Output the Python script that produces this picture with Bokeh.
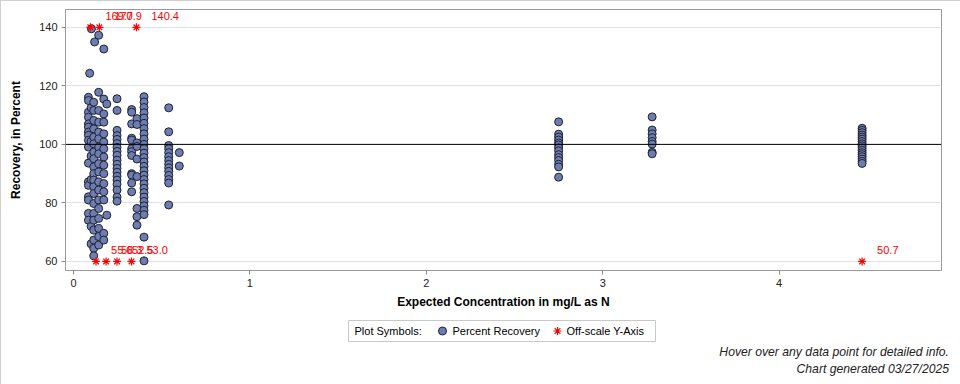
from bokeh.plotting import figure
from bokeh.models import Range1d, Span, FixedTicker, ColumnDataSource, Label, Div
from bokeh.layouts import column
from bokeh.core.properties import value
from bokeh.embed import file_html
from bokeh.resources import INLINE

# ---------------- data ----------------
conc_levels = [0.085, 0.092, 0.10, 0.102, 0.115, 0.12, 0.143, 0.172, 0.189,
               0.247, 0.33, 0.36, 0.40, 0.54, 0.60, 2.75, 3.28, 4.47]

rec_0085 = [116.1, 115.0, 111.0, 109.3, 107.0, 105.9, 104.2, 103.1, 101.4, 99.1,
            93.6, 87.2, 86.0, 82.1, 81.0, 76.4, 74.1]
rec_0092 = [124.3]
rec_0100 = [112.5, 101.0, 96.0, 88.0, 72.0, 66.0]
rec_0102 = [139.5]
rec_0115 = [114.4, 111.6, 108.2, 105.3, 102.5, 100.2, 97.4, 95.1, 92.3, 90.0,
            87.8, 85.5, 83.2, 79.8, 76.4, 74.1, 70.7, 67.3, 64.5, 61.9]
rec_0120 = [135.0]
rec_0143 = [137.3, 117.8, 111.6, 107.6, 104.2, 101.9, 99.1, 96.8, 93.4, 90.6,
            87.2, 84.4, 81.0, 78.1, 74.7, 71.3, 68.5, 65.6]
rec_0172 = [132.6, 115.5, 110.4, 107.6, 103.6, 100.8, 98.5, 95.7, 92.9, 90.0,
            86.6, 83.8, 81.0, 69.6, 67.3]
rec_0189 = [113.8, 75.8]
rec_0247 = [115.6, 111.6, 104.8, 103.0, 101.7, 100.3, 99.0, 97.6, 96.3, 94.6,
            93.2, 91.8, 90.5, 89.1, 87.8, 86.4, 84.4, 82.0, 80.6]
rec_0330 = [111.9, 111.0, 107.0, 102.1, 101.5, 98.5, 97.5, 96.2, 90.0, 89.5,
            86.8, 83.8]
rec_0360 = [108.8, 106.8, 100.5, 99.3, 95.0, 89.0, 78.1, 75.3, 72.4]
rec_0400 = [116.3, 114.5, 112.6, 110.8, 109.0, 107.2, 105.4, 103.6, 101.8, 100.0,
            98.5, 97.0, 95.5, 94.0, 92.5, 91.0, 89.5, 88.0, 86.5, 85.0, 83.5,
            82.0, 80.5, 79.0, 77.5, 76.0, 68.3, 60.2]
rec_0540 = [112.5, 104.3, 99.6, 98.5, 97.2, 95.8, 94.5, 93.2, 92.0, 90.8, 89.4,
            88.0, 86.8, 79.3]
rec_0600 = [97.2, 92.6]
rec_2750 = [107.7, 103.5, 102.5, 101.5, 100.5, 99.8, 98.8, 97.8, 96.5, 95.5,
            94.5, 93.2, 92.3, 88.8]
rec_3280 = [109.4, 104.9, 103.6, 102.3, 101.0, 100.1, 97.3, 96.8]
rec_4470 = [105.5, 104.8, 104.0, 103.2, 102.5, 101.8, 101.0, 100.2, 99.5, 98.8,
            98.0, 97.2, 96.5, 95.8, 95.0, 94.2, 93.5]

rec_groups = [rec_0085, rec_0092, rec_0100, rec_0102, rec_0115, rec_0120, rec_0143,
              rec_0172, rec_0189, rec_0247, rec_0330, rec_0360, rec_0400, rec_0540,
              rec_0600, rec_2750, rec_3280, rec_4470]

offscale_conc = [0.096, 0.147, 0.357, 0.128, 0.185, 0.247, 0.329, 4.47]
offscale_value = [169.7, 170.9, 140.4, 55.6, 58.3, 52.5, 53.0, 50.7]

y_ticks = [60, 80, 100, 120, 140]
x_ticks = [0, 1, 2, 3, 4]
y_floor, y_ceil = 60, 140

footer_lines = ["Hover over any data point for detailed info.",
                "Chart generated 03/27/2025"]

FONT = "Liberation Sans"

xs, ys = [], []
for c, g in zip(conc_levels, rec_groups):
    xs += [c] * len(g)
    ys += g

off_y = [min(max(v, y_floor), y_ceil) for v in offscale_value]
off_lbl = [f"{v:.1f}" for v in offscale_value]

W = 958

# ---------------- main plot ----------------
p = figure(width=W, height=317, output_backend="svg", toolbar_location=None,
           x_range=Range1d(-0.045, 4.92), y_range=Range1d(56.9, 146.1),
           min_border_left=64, min_border_right=18, min_border_top=8,
           min_border_bottom=48)
p.outline_line_color = "#9a9a9a"
p.background_fill_color = "white"
p.border_fill_color = "white"

p.xgrid.grid_line_color = None
p.ygrid.grid_line_color = "#e2e2e2"

for ax in (p.xaxis[0], p.yaxis[0]):
    ax.axis_line_color = None
    ax.major_tick_line_color = "#8a8a8a"
    ax.major_tick_out = 4
    ax.major_tick_in = 0
    ax.minor_tick_line_color = None
    ax.major_label_text_font = FONT
    ax.major_label_text_font_size = "11px"
    ax.major_label_text_color = "#222222"
    ax.major_label_standoff = 4
    ax.axis_label_text_font = FONT
    ax.axis_label_text_font_size = "12px"
    ax.axis_label_text_font_style = "bold"
    ax.axis_label_text_color = "black"

p.xaxis.ticker = FixedTicker(ticks=x_ticks)
p.yaxis.ticker = FixedTicker(ticks=y_ticks)
p.xaxis.axis_label = "Expected Concentration in mg/L as N"
p.yaxis.axis_label = "Recovery, in Percent"
p.xaxis.axis_label_standoff = 5
p.yaxis.axis_label_standoff = 13

p.add_layout(Span(location=100, dimension="width", line_color="black", line_width=1))

p.scatter(xs, ys, marker="circle", size=8, fill_color="#6e7db0",
          line_color="#1f2333", line_width=1)

src_off = ColumnDataSource(dict(x=offscale_conc, y=off_y, t=off_lbl))
p.scatter("x", "y", source=src_off, marker="asterisk", size=8,
          line_color="red", line_width=1.2)
p.text("x", "y", text="t", source=src_off, x_offset=15, y_offset=-11,
       text_color="red", text_font=value(FONT), text_font_size="11px",
       text_baseline="middle", text_align="left")

# ---------------- legend strip ----------------
# the column aligns this figure's frame with the main frame (page x 65..941),
# so the x range is expressed in page pixels
H2 = 26
p2 = figure(width=W, height=H2, output_backend="svg", toolbar_location=None,
            x_range=Range1d(65, 941), y_range=Range1d(0, H2),
            min_border=0, min_border_left=64, min_border_right=18,
            min_border_top=0, min_border_bottom=0)
p2.axis.visible = False
p2.grid.visible = False
p2.outline_line_color = None

p2.quad(left=[348], right=[655], bottom=[3], top=[24], fill_color=None,
        line_color="#c8c8c8", line_width=1)
p2.scatter([442], [13.5], marker="circle", size=8, fill_color="#6e7db0",
           line_color="#1f2333", line_width=1)
p2.scatter([557], [13.5], marker="asterisk", size=8, line_color="red", line_width=1.2)

def add_label(x, y, txt):
    p2.add_layout(Label(x=x, y=y, text=txt, text_font=FONT, text_font_size="11px",
                        text_align="left", text_baseline="middle",
                        text_color="black"))

add_label(354, 13.5, "Plot Symbols:")
add_label(452, 13.5, "Percent Recovery")
add_label(566, 13.5, "Off-scale Y-Axis")

# ---------------- footer ----------------
footer = Div(width=W, height=38, text=(
    '<div style="position:relative;top:-5px;width:943px;text-align:right;'
    'font-family:\'Liberation Sans\';font-size:12.2px;font-style:italic;'
    'line-height:17px;color:#222222;">'
    + "<br>".join(footer_lines) + "</div>"))

layout = column(p, p2, footer, spacing=0, styles={"border": "1px solid #d0d0d0"})
open("out.html", "w").write(file_html(layout, INLINE))
